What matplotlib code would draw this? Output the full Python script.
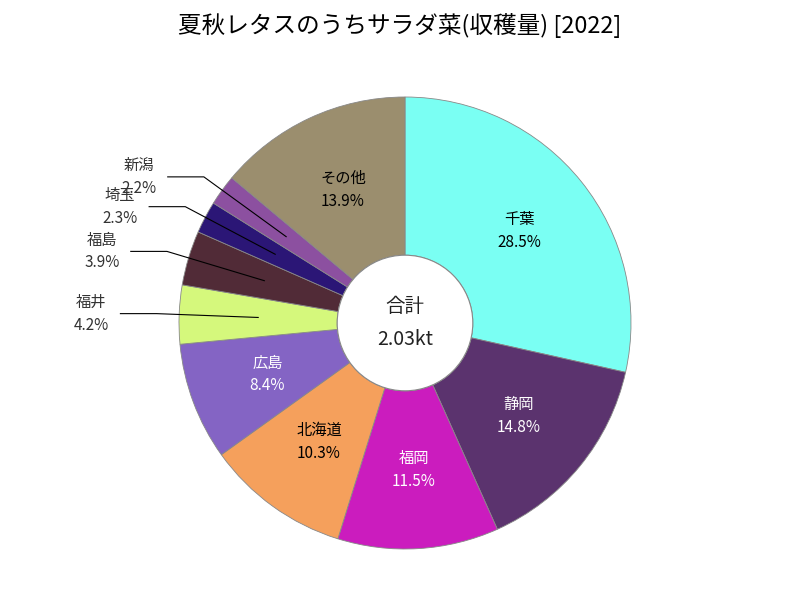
import numpy as np
import matplotlib.pyplot as plt

plt.rcParams['font.family'] = ['Noto Sans CJK JP', 'DejaVu Sans']

labels = ["千葉", "静岡", "福岡", "北海道", "広島", "福井", "福島", "埼玉", "新潟", "その他"]
shares = [28.5, 14.8, 11.5, 10.3, 8.4, 4.2, 3.9, 2.3, 2.2, 13.9]
colors = ["#7AFFF3", "#5B336E", "#CB1CBE", "#F5A05C", "#8464C4",
          "#D5F87C", "#512B37", "#2B1676", "#8C50A0", "#9B8E6E"]
text_colors = ["black", "white", "white", "black", "white",
               None, None, None, None, "black"]
total_label = "2.03kt"

R = 226.0  # pixels per unit radius
fig = plt.figure(figsize=(8, 6), dpi=100)
ax = fig.add_axes([0, 0, 1, 1])

inner = 0.3
wedges, _ = ax.pie(shares, colors=colors, startangle=90, counterclock=False,
                   radius=1.0, wedgeprops=dict(width=1 - inner, edgecolor="#888888", linewidth=0.6))
ax.add_patch(plt.Circle((0, 0), inner, facecolor="white", edgecolor="#888888", linewidth=0.8, zorder=3))

ax.set_xlim(-405 / R, 395 / R)
ax.set_ylim(-(600 - 323) / R, 323 / R)
ax.set_aspect("equal")
ax.axis("off")

mid_r = (1 + inner) / 2
for w, name, v, tc in zip(wedges, labels, shares, text_colors):
    ang = np.deg2rad((w.theta1 + w.theta2) / 2)
    cx, cy = np.cos(ang), np.sin(ang)
    txt = f"{name}\n{v:.1f}%"
    if tc is not None:
        ax.text(mid_r * cx, mid_r * cy, txt, ha="center", va="center",
                color=tc, fontsize=11, linespacing=1.45, zorder=4)
    else:
        ex, ey = 1.1 * cx, 1.1 * cy
        hx = ex - 0.16
        ax.plot([mid_r * cx, ex, hx], [mid_r * cy, ey, ey], color="black", lw=0.8, zorder=4)
        ax.text(hx - 0.05, ey, txt, ha="right", va="center", color="#333333",
                fontsize=11, linespacing=1.45, multialignment="center", zorder=5)

ax.text(0, 0, "合計\n" + total_label, ha="center", va="center", fontsize=14,
        color="#222222", linespacing=1.7, zorder=5)

fig.text(0.5, 0.958, "夏秋レタスのうちサラダ菜(収穫量) [2022]", ha="center", va="center", fontsize=17)

fig.savefig("out.png", dpi=100)
